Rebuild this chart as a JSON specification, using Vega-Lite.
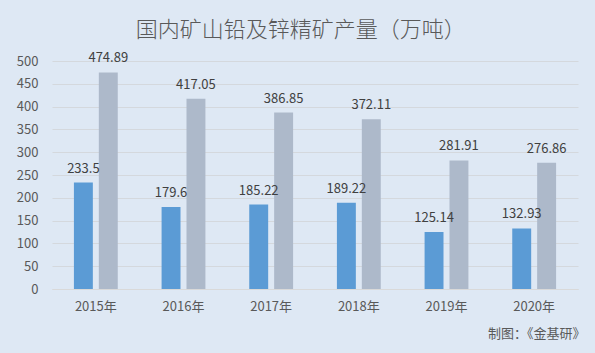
{
  "$schema": "https://vega.github.io/schema/vega-lite/v6.json",
  "width": 526,
  "height": 228,
  "autosize": {"type": "none"},
  "padding": {"left": 52, "top": 61, "right": 17, "bottom": 64},
  "background": "#dee8f4",
  "config": {
    "view": {"stroke": null},
    "font": "Noto Sans CJK SC"
  },
  "title": {
    "text": "国内矿山铅及锌精矿产量（万吨）",
    "fontSize": 22,
    "font": "Noto Sans CJK SC",
    "fontWeight": 300,
    "color": "#595959",
    "anchor": "middle",
    "frame": "bounds",
    "offset": 10
  },
  "data": {
    "values": [
      {"year": "2015年", "series": "铅精矿", "value": 233.5},
      {"year": "2015年", "series": "锌精矿", "value": 474.89},
      {"year": "2016年", "series": "铅精矿", "value": 179.6},
      {"year": "2016年", "series": "锌精矿", "value": 417.05},
      {"year": "2017年", "series": "铅精矿", "value": 185.22},
      {"year": "2017年", "series": "锌精矿", "value": 386.85},
      {"year": "2018年", "series": "铅精矿", "value": 189.22},
      {"year": "2018年", "series": "锌精矿", "value": 372.11},
      {"year": "2019年", "series": "铅精矿", "value": 125.14},
      {"year": "2019年", "series": "锌精矿", "value": 281.91},
      {"year": "2020年", "series": "铅精矿", "value": 132.93},
      {"year": "2020年", "series": "锌精矿", "value": 276.86}
    ]
  },
  "encoding": {
    "x": {
      "field": "year",
      "type": "nominal",
      "sort": null,
      "scale": {"paddingInner": 0.5, "paddingOuter": 0.25},
      "axis": {
        "title": "制图：《金基研》",
        "titleFont": "Noto Sans CJK SC",
        "titleFontSize": 13,
        "titleFontWeight": "normal",
        "titleColor": "#595959",
        "titleAnchor": "end",
        "titleAlign": "right",
        "titleX": 533,
        "titlePadding": 14,
        "labelAngle": 0,
        "labelFontSize": 13,
        "labelColor": "#595959",
        "labelPadding": 11,
        "ticks": false,
        "domainColor": "#d9d9d9",
        "grid": false
      }
    },
    "xOffset": {
      "field": "series",
      "type": "nominal",
      "scale": {"paddingInner": 0.24, "paddingOuter": 0}
    },
    "y": {
      "field": "value",
      "type": "quantitative",
      "scale": {"domain": [0, 500]},
      "axis": {
        "title": null,
        "values": [0, 50, 100, 150, 200, 250, 300, 350, 400, 450, 500],
        "labelFontSize": 13,
        "labelColor": "#595959",
        "labelPadding": 14,
        "ticks": false,
        "domain": false,
        "gridColor": "#d4d8dd",
        "gridWidth": 1
      }
    }
  },
  "layer": [
    {
      "mark": {"type": "bar"},
      "encoding": {
        "color": {
          "field": "series",
          "type": "nominal",
          "scale": {"domain": ["铅精矿", "锌精矿"], "range": ["#5b9bd5", "#adb9ca"]},
          "legend": null
        }
      }
    },
    {
      "mark": {"type": "text", "baseline": "bottom", "dy": -7, "fontSize": 13, "color": "#404040"},
      "encoding": {
        "text": {"field": "value", "type": "nominal"}
      }
    }
  ]
}
